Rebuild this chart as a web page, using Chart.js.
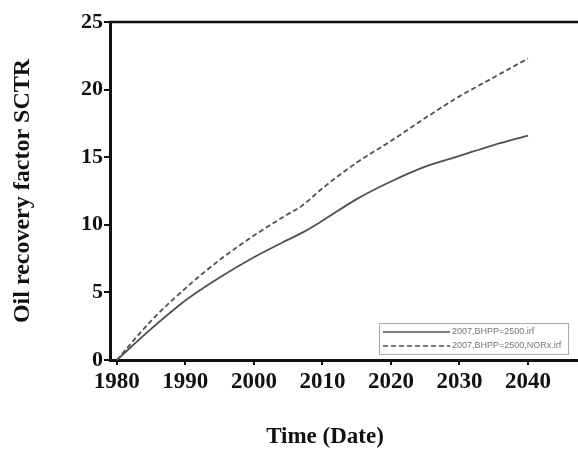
<!DOCTYPE html>
<html>
<head>
<meta charset="utf-8">
<script src="https://cdn.jsdelivr.net/npm/chart.js@4/dist/chart.umd.min.js"></script>
<style>
  html, body { margin: 0; padding: 0; background: #fff; }
  #wrap { width: 578px; height: 450px; }
</style>
</head>
<body>
<div id="wrap"><canvas id="chart" width="578" height="450"></canvas></div>
<script>
// values
const years = [1980, 1985, 1990, 1995, 2000, 2005, 2007, 2010, 2015, 2020, 2025, 2030, 2035, 2040];
const baseCase = [0, 2.3, 4.4, 6.1, 7.6, 8.9, 9.4, 10.3, 11.9, 13.2, 14.3, 15.1, 15.9, 16.6];
const norxCase = [0, 2.9, 5.3, 7.4, 9.2, 10.8, 11.4, 12.7, 14.6, 16.2, 17.9, 19.5, 20.9, 22.3];
const seriesLabels = ["2007,BHPP=2500.irf", "2007,BHPP=2500,NORx.irf"];
const xTicks = [1980, 1990, 2000, 2010, 2020, 2030, 2040];
const yTicks = [0, 5, 10, 15, 20, 25];
const xTitle = "Time (Date)";

const serif = "'Liberation Serif', 'Times New Roman', serif";

const toPoints = (vals) => years.map((yr, i) => ({ x: yr, y: vals[i] }));

// top frame line, x title (sits left of centre in the original) and boxed legend
const framePlugin = {
  id: "frame",
  afterDraw(chart) {
    const { ctx, chartArea } = chart;
    ctx.save();
    ctx.strokeStyle = "#111";
    ctx.lineWidth = 2.5;
    ctx.beginPath();
    ctx.moveTo(chartArea.left - 1, chartArea.top);
    ctx.lineTo(chartArea.right, chartArea.top);
    ctx.stroke();

    ctx.fillStyle = "#111";
    ctx.font = "bold 23px " + serif;
    ctx.textAlign = "center";
    ctx.textBaseline = "alphabetic";
    ctx.fillText(xTitle, 325, 443);

    // legend box
    const w = 189, h = 31;
    const bx = chartArea.right - 10 - w;
    const by = chartArea.bottom - 6 - h;
    ctx.fillStyle = "#fff";
    ctx.fillRect(bx, by, w, h);
    ctx.strokeStyle = "#aaa";
    ctx.lineWidth = 1;
    ctx.strokeRect(bx + 0.5, by + 0.5, w, h);

    ctx.font = "9px 'Liberation Sans', Arial, sans-serif";
    ctx.textAlign = "left";
    ctx.textBaseline = "middle";
    chart.data.datasets.forEach((ds, i) => {
      const ly = by + 9 + i * 14;
      ctx.strokeStyle = ds.borderColor;
      ctx.lineWidth = 1.5;
      ctx.setLineDash(ds.borderDash || []);
      ctx.beginPath();
      ctx.moveTo(bx + 4, ly);
      ctx.lineTo(bx + 71, ly);
      ctx.stroke();
      ctx.setLineDash([]);
      ctx.fillStyle = "#777";
      ctx.fillText(ds.label, bx + 73, ly);
    });
    ctx.restore();
  }
};

new Chart(document.getElementById("chart"), {
  type: "line",
  data: {
    datasets: [
      {
        label: seriesLabels[0],
        data: toPoints(baseCase),
        borderColor: "#505050",
        borderWidth: 1.8,
        pointRadius: 0,
        cubicInterpolationMode: "monotone",
        fill: false
      },
      {
        label: seriesLabels[1],
        data: toPoints(norxCase),
        borderColor: "#505050",
        borderWidth: 1.8,
        borderDash: [5, 3],
        pointRadius: 0,
        cubicInterpolationMode: "monotone",
        fill: false
      }
    ]
  },
  options: {
    responsive: false,
    animation: false,
    layout: { padding: { top: 22, right: 0, bottom: 0, left: 0 } },
    plugins: {
      legend: { display: false },
      tooltip: { enabled: false }
    },
    scales: {
      x: {
        type: "linear",
        min: 1979,
        max: 2047.3,
        afterBuildTicks: (s) => { s.ticks = xTicks.map((v) => ({ value: v })); },
        afterFit: (s) => { s.height = 90; },
        ticks: {
          color: "#111",
          padding: 3,
          maxRotation: 0,
          callback: (v) => String(v),
          font: { family: serif, size: 23, weight: "bold" }
        },
        grid: { drawOnChartArea: false, drawTicks: true, tickLength: 5, color: "#111", lineWidth: 2 },
        border: { color: "#111", width: 3 },
        title: { display: false }
      },
      y: {
        min: 0,
        max: 25,
        afterBuildTicks: (s) => { s.ticks = yTicks.map((v) => ({ value: v })); },
        afterFit: (s) => { s.width = 110; },
        ticks: {
          color: "#111",
          padding: 1,
          callback: (v) => String(v),
          font: { family: serif, size: 22, weight: "bold" }
        },
        grid: { drawOnChartArea: false, drawTicks: true, tickLength: 6, color: "#111", lineWidth: 2 },
        border: { color: "#111", width: 3 },
        title: {
          display: true,
          text: "Oil recovery factor SCTR",
          color: "#111",
          font: { family: serif, size: 24, weight: "bold" },
          padding: { top: 8, bottom: 0 }
        }
      }
    }
  },
  plugins: [framePlugin]
});
</script>
</body>
</html>
